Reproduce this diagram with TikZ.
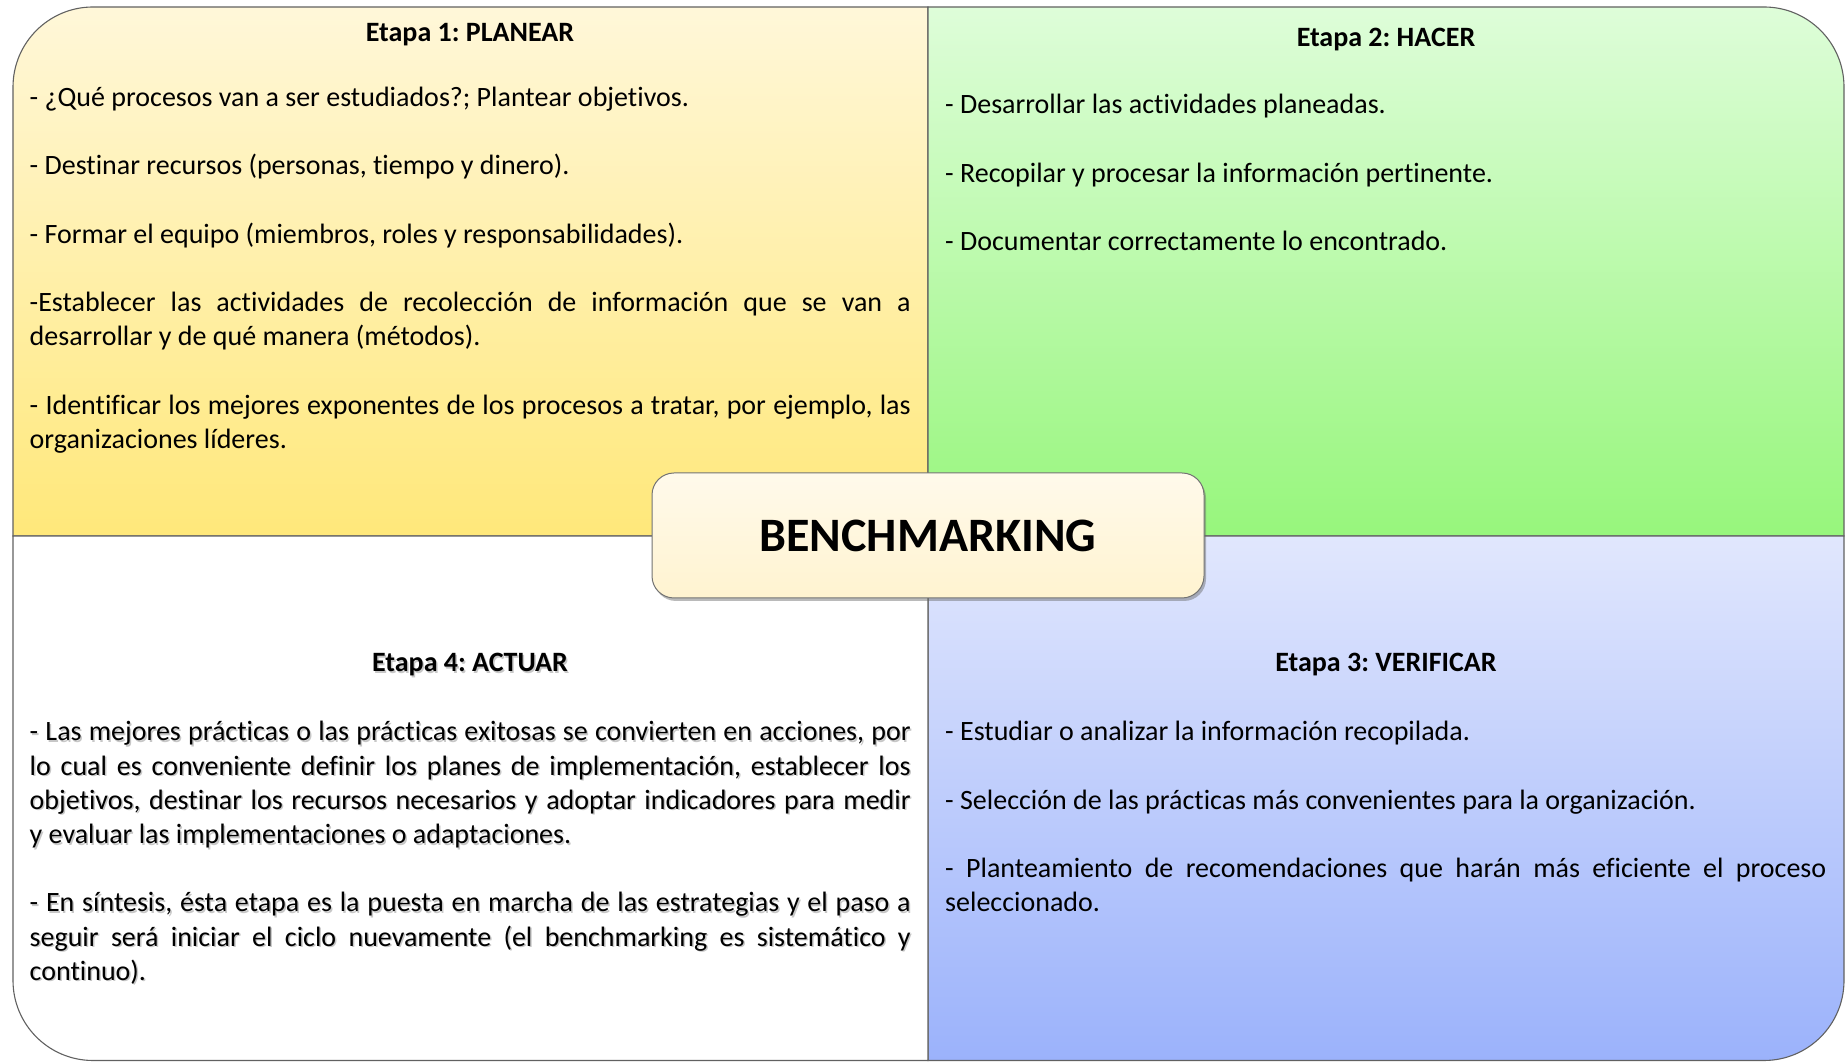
\documentclass[tikz,border=0pt]{standalone}
\usepackage{fontspec}
\setmainfont{Carlito}[Ligatures=NoCommon]
\frenchspacing
\usetikzlibrary{shadows}
\definecolor{yTop}{HTML}{FFF7D9}
\definecolor{yBot}{HTML}{FFE87A}
\definecolor{gTop}{HTML}{DEFDD9}
\definecolor{gBot}{HTML}{97F67C}
\definecolor{bTop}{HTML}{E1E7FD}
\definecolor{bBot}{HTML}{9BB2FB}
\definecolor{cTop}{HTML}{FFFAEB}
\definecolor{cBot}{HTML}{FFF3D0}
\begin{document}
\begin{tikzpicture}[x=1pt,y=1pt,
  quad/.style={draw=black!62, line width=1.1pt},
  body/.style={anchor=base west, text width=881pt, align=justify, inner sep=0pt,
    font=\fontsize{28}{34.2}\selectfont,
    execute at begin node={\frenchspacing\setlength{\parskip}{34.2pt}\hyphenpenalty=10000\exhyphenpenalty=10000}},
  ttl/.style={anchor=base, inner sep=0pt, font=\fontsize{28}{34.2}\selectfont\bfseries,
    execute at begin node={\frenchspacing}},
  shd/.style={text=black, opacity=0.22},
  cbox/.style={draw=black!55, line width=1pt, rounded corners=22pt, minimum width=552pt, minimum height=125pt,
    top color=cTop, bottom color=cBot, inner sep=0pt,
    drop shadow={shadow xshift=2pt, shadow yshift=-3pt, opacity=0.45, fill=black!60},
    font=\fontsize{48}{54}\selectfont\bfseries}
]
\useasboundingbox (0,0) rectangle (1848,1062);
\def\rr{80}
% quadrants
\draw[quad, top color=yTop, bottom color=yBot]
  (13,526) -- (13,1055-\rr) arc[start angle=180,end angle=90,radius=\rr] -- (928,1055) -- (928,526) -- cycle;
\draw[quad, top color=gTop, bottom color=gBot]
  (928,526) -- (928,1055) -- (1844-\rr,1055) arc[start angle=90,end angle=0,radius=\rr] -- (1844,526) -- cycle;
\draw[quad, top color=bTop, bottom color=bBot]
  (928,526) -- (1844,526) -- (1844,1.5+\rr) arc[start angle=0,end angle=-90,radius=\rr] -- (928,1.5) -- cycle;
\draw[quad, fill=white]
  (928,526) -- (928,1.5) -- (13+\rr,1.5) arc[start angle=270,end angle=180,radius=\rr] -- (13,526) -- cycle;

% Stage 1
\node[ttl] (t1) at (470,1020.8) {Etapa 1: PLANEAR};
\node[body] (b1) at (29.5,955.5) {- ¿Qué procesos van a ser estudiados?; Plantear objetivos.\par
- Destinar recursos (personas, tiempo y dinero).\par
- Formar el equipo (miembros, roles y responsabilidades).\par
-Establecer las actividades de recolección de información que se van a desarrollar y de qué manera (métodos).\par
- Identificar los mejores exponentes de los procesos a tratar, por ejemplo, las organizaciones líderes.};

% Stage 2
\node[ttl] (t2) at (1386,1015.5) {Etapa 2: HACER};
\node[body] (b2) at (945,948) {- Desarrollar las actividades planeadas.\par
- Recopilar y procesar la información pertinente.\par
- Documentar correctamente lo encontrado.};

% Stage 3
\node[ttl] (t3) at (1386,390) {Etapa 3: VERIFICAR};
\node[body] (b3) at (945,321) {- Estudiar o analizar la información recopilada.\par
- Selección de las prácticas más convenientes para la organización.\par
- Planteamiento de recomendaciones que harán más eficiente el proceso seleccionado.};

% Stage 4 (with text shadow)
\node[ttl, shd] (t4s) at (471.5,388.5) {Etapa 4: ACTUAR};
\node[body, shd] (b4s) at (31,319.5) {- Las mejores prácticas o las prácticas exitosas se convierten en acciones, por lo cual es conveniente definir los planes de implementación, establecer los objetivos, destinar los recursos necesarios y adoptar indicadores para medir y evaluar las implementaciones o adaptaciones.\par
- En síntesis, ésta etapa es la puesta en marcha de las estrategias y el paso a\linebreak seguir será iniciar el ciclo nuevamente (el benchmarking es sistemático y continuo).};
\node[ttl] (t4) at (470,390) {Etapa 4: ACTUAR};
\node[body] (b4) at (29.5,321) {- Las mejores prácticas o las prácticas exitosas se convierten en acciones, por lo cual es conveniente definir los planes de implementación, establecer los objetivos, destinar los recursos necesarios y adoptar indicadores para medir y evaluar las implementaciones o adaptaciones.\par
- En síntesis, ésta etapa es la puesta en marcha de las estrategias y el paso a\linebreak seguir será iniciar el ciclo nuevamente (el benchmarking es sistemático y continuo).};

% centre
\node[cbox] (bm) at (928,526.5) {BENCHMARKING};
\end{tikzpicture}
\end{document}
